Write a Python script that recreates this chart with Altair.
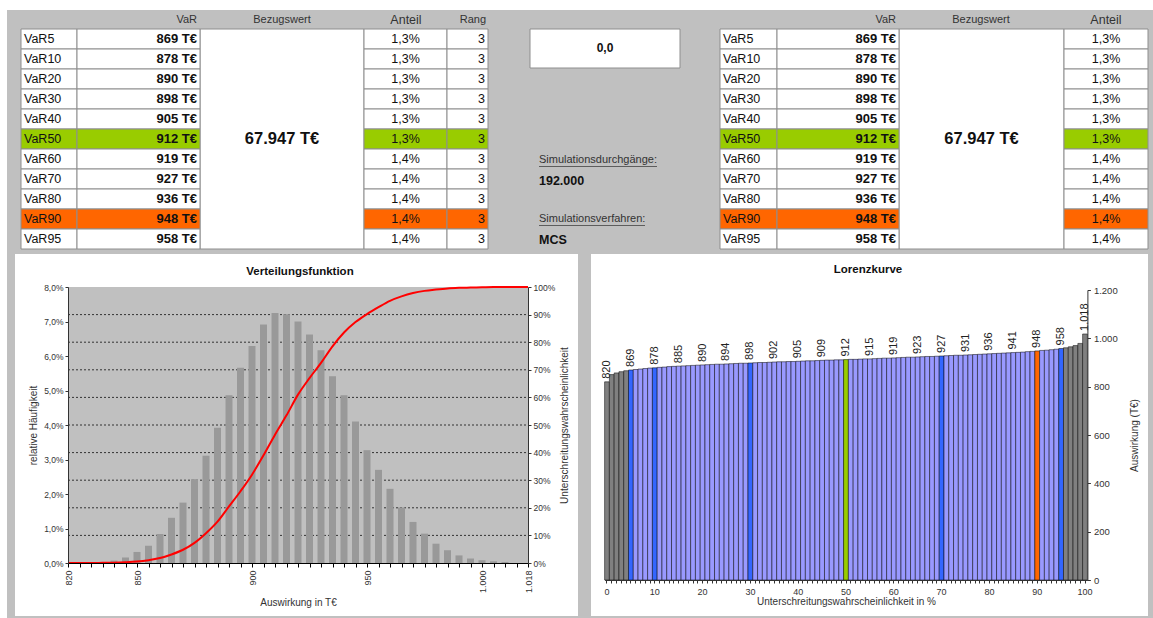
import altair as alt
import pandas as pd

W, H = 1153, 618
FONT = "Liberation Sans"
TEXT = "#111111"
PANEL_GREY = "#c0c0c0"
CELL_LINE = "#8e8e8e"

# ---------------- quantile table ----------------
var_levels = ["VaR5", "VaR10", "VaR20", "VaR30", "VaR40", "VaR50",
              "VaR60", "VaR70", "VaR80", "VaR90", "VaR95"]
var_amounts = [869, 878, 890, 898, 905, 912, 919, 927, 936, 948, 958]
var_shares = ["1,3%", "1,3%", "1,3%", "1,3%", "1,3%", "1,3%",
              "1,4%", "1,4%", "1,4%", "1,4%", "1,4%"]
var_ranks = [3, 3, 3, 3, 3, 3, 3, 3, 3, 3, 3]
reference_amount = "67.947 T€"
level_colours = {"VaR50": "#99cc00", "VaR90": "#ff6600"}

# ---------------- simulation settings ----------------
summary_value = "0,0"
runs_caption = "Simulationsdurchgänge:"
runs_value = "192.000"
method_caption = "Simulationsverfahren:"
method_value = "MCS"

# ---------------- distribution (relative frequency in %, cumulative in %) ----------------
hist_categories = [820, 825, 830, 835, 840, 845, 850, 855, 860, 865, 870, 875, 880, 885,
                   890, 895, 900, 905, 910, 915, 920, 925, 930, 935, 940, 945, 950, 955,
                   960, 965, 970, 975, 980, 985, 990, 995, 1000, 1005, 1010, 1015, 1018]
hist_freq = [0, 0, 0, 0, 0.07, 0.16, 0.32, 0.50, 0.84, 1.31, 1.75, 2.43, 3.11, 3.92,
             4.86, 5.66, 6.29, 6.91, 7.25, 7.21, 7.00, 6.62, 6.17, 5.41, 4.86, 4.10, 3.27, 2.70,
             2.15, 1.61, 1.19, 0.85, 0.56, 0.37, 0.22, 0.13, 0.08, 0.05, 0.03, 0, 0]
hist_cdf = [0, 0, 0, 0.05, 0.1, 0.25, 0.5, 1.0, 1.8, 3.1, 4.8, 7.3, 10.8, 15.0,
            20.5, 26.0, 32.0, 39.0, 46.5, 53.5, 61.0, 67.0, 72.5, 78.5, 83.5, 87.3, 90.2, 92.7,
            95.0, 96.6, 97.8, 98.6, 99.1, 99.5, 99.7, 99.8, 99.9, 100, 100, 100, 100]
hist_label_values = [820, 850, 900, 950, 1000, 1018]

# ---------------- Lorenz curve (amount per percentile) ----------------
lorenz_pct = list(range(101))
lorenz_values = [820, 850, 857, 862, 866, 869, 871, 873, 875, 877,
                 878, 880, 881, 883, 884, 885, 886, 887, 888, 889,
                 890, 891, 892, 893, 893, 894, 895, 896, 897, 897,
                 898, 899, 900, 900, 901, 902, 903, 903, 904, 904,
                 905, 906, 907, 907, 908, 909, 910, 910, 911, 911,
                 912, 913, 913, 914, 915, 915, 916, 917, 918, 918,
                 919, 920, 921, 922, 922, 923, 924, 925, 925, 926,
                 927, 928, 929, 930, 930, 931, 932, 933, 934, 935,
                 936, 937, 938, 939, 940, 941, 942, 943, 945, 946,
                 948, 950, 951, 953, 955, 958, 961, 965, 970, 979,
                 1018]
lorenz_labelled = [0, 5, 10, 15, 20, 25, 30, 35, 40, 45, 50,
                   55, 60, 65, 70, 75, 80, 85, 90, 95, 100]
lorenz_grey = [0, 1, 2, 3, 4, 96, 97, 98, 99, 100]
lorenz_blue = [5, 10, 30, 70, 95]
lorenz_green = [50]
lorenz_orange = [90]

# ---------------- layout (pixels) ----------------
LEFT_COLS = {"label": (21, 77), "amount": (77, 200), "ref": (200, 364),
             "share": (364, 447), "rank": (447, 488)}
RIGHT_COLS = {"label": (720, 777), "amount": (777, 899), "ref": (899, 1064),
              "share": (1064, 1148)}
ROW_RANGE = [29, 249]
HIST_X = [68, 528]
HIST_Y = [563, 287]
LOR_X = [604.6, 1087.4]
LOR_Y = [580, 290]


def px_x():
    return alt.Scale(domain=[0, W], range=[0, W], nice=False, zero=False)


def px_y():
    return alt.Scale(domain=[0, H], range=[0, H], nice=False, zero=False)


def row_scale():
    return alt.Scale(type="band", domain=var_levels, range=ROW_RANGE,
                     paddingInner=0, paddingOuter=0)


def free_text(items, align="left", size=9.0, weight="normal", color=TEXT, angle=0):
    df = pd.DataFrame(items, columns=["t", "x", "y"])
    return alt.Chart(df).mark_text(
        align=align, baseline="middle", fontSize=size, fontWeight=weight,
        font=FONT, color=color, angle=angle
    ).encode(
        x=alt.X("x:Q", scale=px_x(), axis=None),
        y=alt.Y("y:Q", scale=px_y(), axis=None),
        text="t:N",
    )


def row_text(records, align, size=12.5, weight="normal"):
    return alt.Chart(pd.DataFrame(records)).mark_text(
        align=align, baseline="middle", fontSize=size, fontWeight=weight,
        font=FONT, color=TEXT
    ).encode(
        x=alt.X("x:Q", scale=px_x(), axis=None),
        y=alt.Y("level:N", scale=row_scale(), axis=None),
        text="t:N",
    )


# ---------------- background frames ----------------
frames = pd.DataFrame([
    (7, W, 10, H, PANEL_GREY, "transparent"),
    (15, 578, 254, 616, "white", "transparent"),
    (591, 1148, 254, 616, "white", "transparent"),
    (HIST_X[0], HIST_X[1], HIST_Y[1], HIST_Y[0], PANEL_GREY, "transparent"),
    (LEFT_COLS["ref"][0], LEFT_COLS["ref"][1], ROW_RANGE[0], ROW_RANGE[1], "white", CELL_LINE),
    (RIGHT_COLS["ref"][0], RIGHT_COLS["ref"][1], ROW_RANGE[0], ROW_RANGE[1], "white", CELL_LINE),
    (530, 680, 29, 68, "white", CELL_LINE),
], columns=["x0", "x1", "y0", "y1", "fill", "stroke"])

frame_layer = alt.Chart(frames).mark_rect(strokeWidth=1).encode(
    x=alt.X("x0:Q", scale=px_x(), axis=None), x2="x1:Q",
    y=alt.Y("y0:Q", scale=px_y(), axis=None), y2="y1:Q",
    fill=alt.Fill("fill:N", scale=None),
    stroke=alt.Stroke("stroke:N", scale=None),
)

# ---------------- tables ----------------
cells, labels, amounts, shares, ranks, refs = [], [], [], [], [], []
for cols in (LEFT_COLS, RIGHT_COLS):
    for lvl, amt, share, rank in zip(var_levels, var_amounts, var_shares, var_ranks):
        fill = level_colours.get(lvl, "white")
        for key in ("label", "amount", "share", "rank"):
            if key in cols:
                cells.append({"level": lvl, "x0": cols[key][0], "x1": cols[key][1], "fill": fill})
        labels.append({"level": lvl, "x": cols["label"][0] + 3, "t": lvl})
        amounts.append({"level": lvl, "x": cols["amount"][1] - 3, "t": f"{amt} T€"})
        shares.append({"level": lvl, "x": sum(cols["share"]) / 2, "t": share})
        if "rank" in cols:
            ranks.append({"level": lvl, "x": cols["rank"][1] - 3, "t": str(rank)})
    refs.append({"level": "VaR50", "x": sum(cols["ref"]) / 2, "t": reference_amount})

cell_layer = alt.Chart(pd.DataFrame(cells)).mark_rect(stroke=CELL_LINE, strokeWidth=1).encode(
    x=alt.X("x0:Q", scale=px_x(), axis=None), x2="x1:Q",
    y=alt.Y("level:N", scale=row_scale(), axis=None),
    fill=alt.Fill("fill:N", scale=None),
)

header_right = free_text([("VaR", 197, 20), ("Rang", 486, 20), ("VaR", 896, 20)],
                         align="right", size=11, color="#333")
header_centre = free_text([("Bezugswert", 282, 20), ("Bezugswert", 981, 20)],
                          align="center", size=11, color="#333")
header_share = free_text([("Anteil", 406, 20), ("Anteil", 1106, 20)],
                         align="center", size=12.5, color="#333")

# ---------------- simulation block ----------------
middle_bold = free_text([(summary_value, 605, 48)], align="center", size=12, weight="bold")
middle_captions = free_text([(runs_caption, 539, 160), (method_caption, 539, 219)],
                            size=11, color="#333")
middle_values = free_text([(runs_value, 539, 181), (method_value, 539, 240)],
                          size=12.5, weight="bold")
underlines = pd.DataFrame({"x0": [539, 539], "x1": [657, 645], "y": [166.5, 225.5]})
underline_layer = alt.Chart(underlines).mark_rule(color="#444", strokeWidth=0.8).encode(
    x=alt.X("x0:Q", scale=px_x(), axis=None), x2="x1:Q",
    y=alt.Y("y:Q", scale=px_y(), axis=None),
)

# ---------------- Verteilungsfunktion ----------------
hist_df = pd.DataFrame({"cat": hist_categories, "freq": hist_freq, "cdf": hist_cdf})


def hist_x_scale():
    return alt.Scale(type="point", domain=hist_categories, range=HIST_X, padding=0)


label_set = ", ".join(str(v) for v in hist_label_values)
grid_df = pd.DataFrame({"level": [10, 20, 30, 40, 50, 60, 70, 80, 90]})
grid_layer = alt.Chart(grid_df).mark_rule(color="#333", strokeWidth=1, strokeDash=[2, 2]).encode(
    y=alt.Y("level:Q", scale=alt.Scale(domain=[0, 100], range=HIST_Y, nice=False), axis=None),
    x=alt.value(HIST_X[0]), x2=alt.value(HIST_X[1]),
)

freq_layer = alt.Chart(hist_df).mark_bar(size=7, color="#999999").encode(
    x=alt.X("cat:O", scale=hist_x_scale(), axis=alt.Axis(
        orient="bottom", offset=HIST_Y[0] - H, values=hist_categories,
        labelExpr=f"indexof([{label_set}], datum.value) >= 0 ? replace(format(datum.value, ','), ',', '.') : ''",
        labelAngle=270, labelFontSize=9, labelPadding=3, tickSize=4,
        domainColor="#000", tickColor="#000",
        title="Auswirkung in T€", titleFontSize=10, titlePadding=5, zindex=1)),
    y=alt.Y("freq:Q", scale=alt.Scale(domain=[0, 8], range=HIST_Y, nice=False), axis=alt.Axis(
        orient="left", offset=-HIST_X[0], values=[0, 1, 2, 3, 4, 5, 6, 7, 8],
        labelExpr="replace(format(datum.value, '.1f'), '.', ',') + '%'",
        labelFontSize=8.5, tickSize=3, domainColor="#333", tickColor="#333",
        title="relative Häufigkeit", titleFontSize=10, titlePadding=5, zindex=1)),
)

cdf_layer = alt.Chart(hist_df).mark_line(color="#ff0000", strokeWidth=2, interpolate="monotone").encode(
    x=alt.X("cat:O", scale=hist_x_scale(), axis=None),
    y=alt.Y("cdf:Q", scale=alt.Scale(domain=[0, 100], range=HIST_Y, nice=False), axis=alt.Axis(
        orient="right", offset=HIST_X[1] - W, values=list(range(0, 101, 10)),
        labelExpr="datum.value + '%'", labelFontSize=8.5, tickSize=3,
        domainColor="#333", tickColor="#333",
        title="Unterschreitungswahrscheinlichkeit", titleFontSize=10,
        titleAngle=270, titleBaseline="top", titlePadding=5, zindex=1)),
)

# ---------------- Lorenzkurve ----------------
def lorenz_colour(p):
    if p in lorenz_green:
        return "#99cc00"
    if p in lorenz_orange:
        return "#ff6600"
    if p in lorenz_blue:
        return "#3366ff"
    if p in lorenz_grey:
        return "#808080"
    return "#9999ff"


lor_df = pd.DataFrame({"pct": lorenz_pct, "value": lorenz_values})
lor_df["colour"] = [lorenz_colour(p) for p in lorenz_pct]
lor_df["label"] = [f"{v:,}".replace(",", ".") for v in lorenz_values]


def lor_x_scale():
    return alt.Scale(type="band", domain=lorenz_pct, range=LOR_X, paddingInner=0, paddingOuter=0)


def lor_y_scale():
    return alt.Scale(domain=[0, 1200], range=LOR_Y, nice=False)


lor_bars = alt.Chart(lor_df).mark_bar(stroke="#000", strokeWidth=0.5).encode(
    x=alt.X("pct:O", scale=lor_x_scale(), axis=alt.Axis(
        orient="bottom", offset=LOR_Y[0] - H,
        labelExpr="datum.value % 10 == 0 ? datum.label : ''",
        labelAngle=0, labelFontSize=9, labelPadding=4, tickSize=3,
        domainColor="#333", tickColor="#333",
        title="Unterschreitungswahrscheinlichkeit in %", titleFontSize=10, titlePadding=0, zindex=1)),
    y=alt.Y("value:Q", scale=lor_y_scale(), axis=alt.Axis(
        orient="right", offset=LOR_X[1] - W, values=[0, 200, 400, 600, 800, 1000, 1200],
        labelExpr="replace(format(datum.value, ','), ',', '.')",
        labelFontSize=9.5, tickSize=3, labelPadding=3,
        domainColor="#333", tickColor="#333",
        title="Auswirkung (T€)", titleFontSize=10,
        titleAngle=270, titleBaseline="top", titlePadding=12, zindex=1)),
    fill=alt.Fill("colour:N", scale=None),
)

lor_labels = alt.Chart(lor_df[lor_df["pct"].isin(lorenz_labelled)]).mark_text(
    angle=270, align="left", baseline="middle", dx=3, fontSize=11, font=FONT, color="#222"
).encode(
    x=alt.X("pct:O", scale=lor_x_scale(), axis=None),
    y=alt.Y("value:Q", scale=lor_y_scale(), axis=None),
    text="label:N",
)

titles = free_text([("Verteilungsfunktion", 300, 272), ("Lorenzkurve", 868, 270)],
                   align="center", size=11.5, weight="bold")

chart = alt.layer(
    frame_layer, cell_layer,
    row_text(labels, "left"),
    row_text(amounts, "right", size=13, weight="bold"),
    row_text(shares, "center"),
    row_text(ranks, "right"),
    row_text(refs, "center", size=16.5, weight="bold"),
    header_right, header_centre, header_share,
    middle_bold, middle_captions, middle_values, underline_layer,
    grid_layer, freq_layer, cdf_layer,
    lor_bars, lor_labels, titles,
).resolve_scale(
    x="independent", y="independent"
).properties(
    width=W, height=H, padding=0, background="white",
    autosize=alt.AutoSizeParams(type="none"),
).configure_view(
    stroke=None
).configure_axis(
    labelFont=FONT, titleFont=FONT, labelColor="#333", titleColor="#333",
    titleFontWeight="normal", grid=False,
)

chart.save("out.html", embed_options={"renderer": "svg", "actions": False})
